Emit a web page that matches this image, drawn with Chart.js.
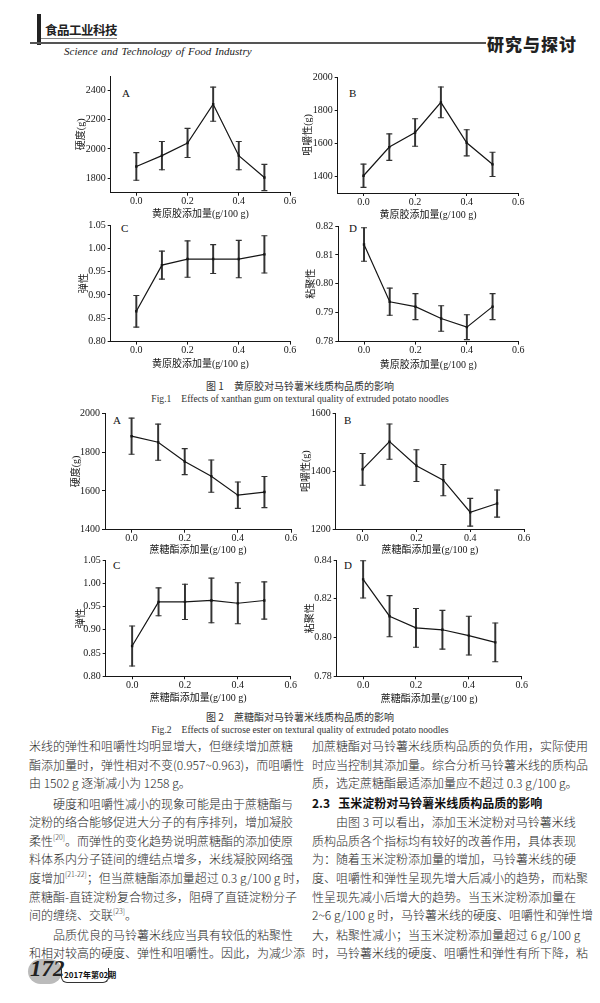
<!DOCTYPE html>
<html>
<head>
<meta charset="utf-8">
<script src="https://cdn.jsdelivr.net/npm/chart.js@4"></script>
<style>
body{margin:0;width:600px;height:1003px;background:#fff;position:relative;overflow:hidden;font-family:'Noto Sans CJK SC',sans-serif;color:#222}
.abs{position:absolute;white-space:nowrap}
canvas{position:absolute}
.ln{position:absolute;height:16px;line-height:16px;font-size:12px;font-weight:300;white-space:nowrap;color:#262626}
.j{text-align:justify;text-align-last:justify}
.l{left:29px;width:259px}
.r{left:312px;width:262px}
sup{font-size:7px;line-height:0;vertical-align:6px}
.cap{position:absolute;left:0;width:600px;text-align:center;font-size:10px;color:#333;white-space:pre}
.fig{font-family:'Liberation Serif',serif;font-size:9.6px}
.letter{position:absolute;font-family:'Liberation Serif',serif;font-size:11px;color:#111}
</style>
</head>
<body>

<div class="abs" style="left:37px;top:14px;width:4px;height:31px;background:#222"></div>
<div class="abs" style="left:45px;top:20px;font-size:12.5px;font-weight:700;letter-spacing:-0.5px;color:#222">食品工业科技</div>
<div class="abs" style="left:41px;top:38px;width:76px;height:1px;background:#888"></div>
<div class="abs" style="left:30px;top:42px;width:456px;height:2px;background:#555"></div>
<div class="abs" style="left:64px;top:45px;font-family:'Liberation Serif',serif;font-style:italic;font-size:11px;word-spacing:1px;color:#222">Science and Technology of Food Industry</div>
<div class="abs" style="left:487px;top:31px;font-size:17px;font-weight:900;letter-spacing:1px;color:#222">研究与探讨</div>

<div class="letter" style="left:122px;top:87px">A</div>
<div class="letter" style="left:349px;top:87px">B</div>
<div class="letter" style="left:121px;top:222px">C</div>
<div class="letter" style="left:349px;top:222px">D</div>
<div class="letter" style="left:113px;top:414px">A</div>
<div class="letter" style="left:344px;top:414px">B</div>
<div class="letter" style="left:113px;top:559px">C</div>
<div class="letter" style="left:344px;top:559px">D</div>

<div class="cap" style="top:378px">图 1　黄原胶对马铃薯米线质构品质的影响</div>
<div class="cap fig" style="top:393px">Fig.1　Effects of xanthan gum on textural quality of extruded potato noodles</div>
<div class="cap" style="top:709px">图 2　蔗糖酯对马铃薯米线质构品质的影响</div>
<div class="cap fig" style="top:724px">Fig.2　Effects of sucrose ester on textural quality of extruded potato noodles</div>

<div class="ln l j" style="top:738px">米线的弹性和咀嚼性均明显增大，但继续增加蔗糖</div>
<div class="ln l j" style="top:757px">酯添加量时，弹性相对不变(0.957~0.963)，而咀嚼性</div>
<div class="ln l" style="top:775px">由 1502 g 逐渐减小为 1258 g。</div>
<div class="ln l j" style="top:796px;padding-left:24px;width:235px">硬度和咀嚼性减小的现象可能是由于蔗糖酯与</div>
<div class="ln l j" style="top:814px">淀粉的络合能够促进大分子的有序排列，增加凝胶</div>
<div class="ln l j" style="top:833px">柔性<sup>[20]</sup>。而弹性的变化趋势说明蔗糖酯的添加使原</div>
<div class="ln l j" style="top:851px">料体系内分子链间的缠结点增多，米线凝胶网络强</div>
<div class="ln l j" style="top:870px">度增加<sup>[21-22]</sup>；但当蔗糖酯添加量超过 0.3 g/100 g 时，</div>
<div class="ln l j" style="top:889px">蔗糖酯-直链淀粉复合物过多，阻碍了直链淀粉分子</div>
<div class="ln l" style="top:907px">间的缠绕、交联<sup>[23]</sup>。</div>
<div class="ln l j" style="top:927px;padding-left:24px;width:235px">品质优良的马铃薯米线应当具有较低的粘聚性</div>
<div class="ln l j" style="top:945px">和相对较高的硬度、弹性和咀嚼性。因此，为减少添</div>

<div class="ln r j" style="top:738px">加蔗糖酯对马铃薯米线质构品质的负作用，实际使用</div>
<div class="ln r j" style="top:757px">时应当控制其添加量。综合分析马铃薯米线的质构品</div>
<div class="ln r" style="top:775px">质，选定蔗糖酯最适添加量应不超过 0.3 g/100 g。</div>
<div class="ln r" style="top:795px;font-size:12px;font-weight:700;color:#111">2.3&nbsp;&nbsp;&nbsp;玉米淀粉对马铃薯米线质构品质的影响</div>
<div class="ln r j" style="top:814px;padding-left:24px;width:238px">由图 3 可以看出，添加玉米淀粉对马铃薯米线</div>
<div class="ln r j" style="top:833px">质构品质各个指标均有较好的改善作用，具体表现</div>
<div class="ln r j" style="top:851px">为：随着玉米淀粉添加量的增加，马铃薯米线的硬</div>
<div class="ln r j" style="top:870px">度、咀嚼性和弹性呈现先增大后减小的趋势，而粘聚</div>
<div class="ln r j" style="top:889px">性呈现先减小后增大的趋势。当玉米淀粉添加量在</div>
<div class="ln r j" style="top:907px">2~6 g/100 g 时，马铃薯米线的硬度、咀嚼性和弹性增</div>
<div class="ln r j" style="top:927px">大，粘聚性减小；当玉米淀粉添加量超过 6 g/100 g</div>
<div class="ln r j" style="top:945px">时，马铃薯米线的硬度、咀嚼性和弹性有所下降，粘</div>

<div class="abs" style="left:28px;top:959px;width:34px;height:25px;border-radius:13px;background:#bbb"></div>
<div class="abs" style="left:30px;top:956px;font-family:'Liberation Serif',serif;font-style:italic;font-weight:700;font-size:23px;color:#222">172</div>
<div class="abs" style="left:61px;top:968px;width:46px;height:14px;border:1px solid #333;border-top:none;border-radius:0 0 6px 6px"></div>
<div class="abs" style="left:64px;top:968px;font-size:8px;line-height:13px;font-weight:700;color:#111">2017年第02期</div>

<script>
// 添加量 (g/100 g)
const doses = [0, 0.1, 0.2, 0.3, 0.4, 0.5];
const xTicks = [0, 0.2, 0.4, 0.6];

// 图1 黄原胶
const xgHardness = [1880, 1954, 2041, 2307, 1954, 1804];
const xgHardnessErr = [95, 97, 100, 117, 97, 90];
const xgChewiness = [1404, 1577, 1665, 1847, 1603, 1473];
const xgChewinessErr = [70, 80, 83, 93, 79, 73];
const xgSpringiness = [0.865, 0.964, 0.977, 0.977, 0.977, 0.987];
const xgSpringinessErr = [0.034, 0.030, 0.039, 0.031, 0.040, 0.040];
const xgCohesiveness = [0.8136, 0.7938, 0.7921, 0.7880, 0.7850, 0.7921];
const xgCohesivenessErr = [0.0058, 0.0047, 0.0045, 0.0044, 0.0043, 0.0045];

// 图2 蔗糖酯
const seHardness = [1882, 1851, 1751, 1676, 1578, 1594];
const seHardnessErr = [93, 93, 67, 83, 68, 80];
const seChewiness = [1406, 1502, 1419, 1369, 1258, 1288];
const seChewinessErr = [55, 61, 55, 54, 48, 47];
const seSpringiness = [0.865, 0.960, 0.960, 0.963, 0.957, 0.963];
const seSpringinessErr = [0.043, 0.030, 0.038, 0.048, 0.044, 0.040];
const seCohesiveness = [0.830, 0.811, 0.805, 0.804, 0.801, 0.7975];
const seCohesivenessErr = [0.0096, 0.0106, 0.010, 0.010, 0.010, 0.010];

// y 轴刻度
const hardTicks1 = [1800, 2000, 2200, 2400];
const chewTicks1 = [1400, 1600, 1800, 2000];
const springTicks = [0.80, 0.85, 0.90, 0.95, 1.00, 1.05];
const cohTicks1 = [0.78, 0.79, 0.80, 0.81, 0.82];
const hardTicks2 = [1400, 1600, 1800, 2000];
const chewTicks2 = [1200, 1400, 1600];
const cohTicks2 = [0.78, 0.80, 0.82, 0.84];

const xTitle1 = '黄原胶添加量(g/100 g)';
const xTitle2 = '蔗糖酯添加量(g/100 g)';

const fam = "'Liberation Serif','Noto Sans CJK SC',serif";
const ink = '#161616';

const panels = [
  {v: xgHardness, e: xgHardnessErr, yt: hardTicks1, min: 1700, max: 2500, d: 0, yTitle: '硬度(g)', xTitle: xTitle1, L: 110.7, T: 76, R: 290, B: 190.7, tx: 82.7, ty: 211},
  {v: xgChewiness, e: xgChewinessErr, yt: chewTicks1, min: 1300, max: 2000, d: 0, yTitle: '咀嚼性(g)', xTitle: xTitle1, L: 337.7, T: 76.7, R: 518.3, B: 190.7, tx: 309, ty: 211.7},
  {v: xgSpringiness, e: xgSpringinessErr, yt: springTicks, min: 0.80, max: 1.05, d: 2, yTitle: '弹性', xTitle: xTitle1, L: 110.7, T: 225, R: 290, B: 339.3, tx: 85, ty: 360.7},
  {v: xgCohesiveness, e: xgCohesivenessErr, yt: cohTicks1, min: 0.78, max: 0.82, d: 2, yTitle: '粘聚性', xTitle: xTitle1, L: 338.3, T: 225.7, R: 518.3, B: 339.3, tx: 312, ty: 361.7},
  {v: seHardness, e: seHardnessErr, yt: hardTicks2, min: 1400, max: 2000, d: 0, yTitle: '硬度(g)', xTitle: xTitle2, L: 105, T: 413.3, R: 291, B: 527.7, tx: 77, ty: 547},
  {v: seChewiness, e: seChewinessErr, yt: chewTicks2, min: 1200, max: 1600, d: 0, yTitle: '咀嚼性(g)', xTitle: xTitle2, L: 335.7, T: 413.3, R: 524, B: 527, tx: 307, ty: 547},
  {v: seSpringiness, e: seSpringinessErr, yt: springTicks, min: 0.80, max: 1.05, d: 2, yTitle: '弹性', xTitle: xTitle2, L: 105.7, T: 560, R: 290.7, B: 674.3, tx: 82, ty: 695},
  {v: seCohesiveness, e: seCohesivenessErr, yt: cohTicks2, min: 0.78, max: 0.84, d: 2, yTitle: '粘聚性', xTitle: xTitle2, L: 336.7, T: 560, R: 521.7, B: 674.3, tx: 311, ty: 696}
];

function makePanel(p) {
  const c = document.createElement('canvas');
  const left = Math.round(p.tx - 7.5);
  const top = Math.round(p.T - 8);
  const w = Math.round(p.R + 12 - left);
  const h = Math.round(p.ty + 9 - top);
  c.width = w; c.height = h;
  c.style.left = left + 'px';
  c.style.top = top + 'px';
  document.body.appendChild(c);

  const yW = p.L - left;
  const xH = p.ty + 7 - p.B;
  const lo = p.v.map((v, i) => v - p.e[i]);
  const hi = p.v.map((v, i) => v + p.e[i]);

  const tickFont = {family: fam, size: 10};
  const titleFont = {family: fam, size: 10};

  new Chart(c, {
    type: 'line',
    data: {
      datasets: [
        {
          type: 'line',
          data: doses.map((x, i) => ({x: x, y: p.v[i]})),
          borderColor: ink, borderWidth: 1.2, tension: 0,
          pointStyle: 'rect', pointRadius: 1.7,
          pointBackgroundColor: ink, pointBorderColor: ink, pointBorderWidth: 0
        },
        {
          type: 'bar',
          data: doses.map((x, i) => ({x: x, y: [lo[i], hi[i]]})),
          backgroundColor: '#333', borderWidth: 0, barThickness: 1.3
        },
        {
          type: 'line', showLine: false,
          data: doses.flatMap((x, i) => [{x: x, y: lo[i]}, {x: x, y: hi[i]}]),
          pointStyle: 'line', pointRadius: 3,
          pointBorderColor: '#333', pointBorderWidth: 1.1
        }
      ]
    },
    options: {
      responsive: false, animation: false, devicePixelRatio: 1, events: [],
      layout: {padding: {top: p.T - top, right: left + w - p.R, left: 0, bottom: 0}},
      plugins: {legend: {display: false}, tooltip: {enabled: false}},
      scales: {
        x: {
          type: 'linear', min: -0.1, max: 0.6, offset: false,
          afterBuildTicks: a => { a.ticks = xTicks.map(v => ({value: v})); },
          afterFit: s => { s.height = xH; },
          ticks: {font: tickFont, color: ink, padding: 0, maxRotation: 0, autoSkip: false, callback: v => v.toFixed(1)},
          grid: {display: true, drawOnChartArea: false, drawTicks: true, tickLength: 3, color: ink, offset: false},
          border: {display: true, color: ink, width: 1},
          title: {display: true, text: p.xTitle, font: titleFont, color: ink, padding: 0}
        },
        y: {
          type: 'linear', min: p.min, max: p.max, beginAtZero: false,
          afterBuildTicks: a => { a.ticks = p.yt.map(v => ({value: v})); },
          afterFit: s => { s.width = yW; },
          ticks: {font: tickFont, color: ink, padding: 2, autoSkip: false, callback: v => v.toFixed(p.d)},
          grid: {display: true, drawOnChartArea: false, drawTicks: true, tickLength: 3, color: ink},
          border: {display: true, color: ink, width: 1},
          title: {display: true, text: p.yTitle, font: titleFont, color: ink, padding: 0}
        }
      }
    }
  });
}

panels.forEach(makePanel);
</script>
</body>
</html>
